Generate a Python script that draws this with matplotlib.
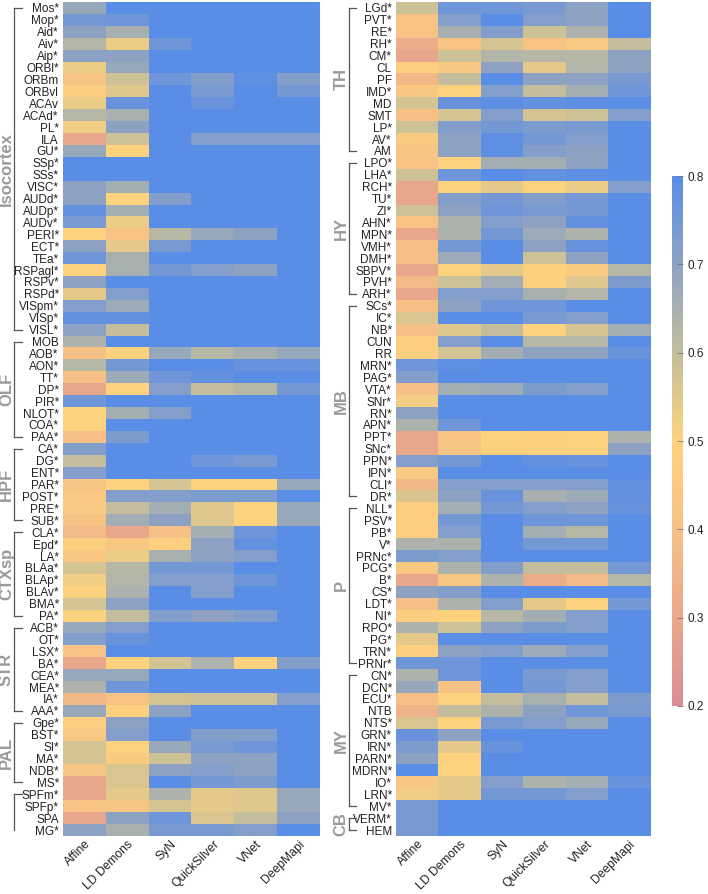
import numpy as np
import matplotlib
matplotlib.use('Agg')
import matplotlib.pyplot as plt
from matplotlib.colors import LinearSegmentedColormap

plt.rcParams['font.family'] = ['Liberation Sans', 'DejaVu Sans']

methods = ['Affine', 'LD Demons', 'SyN', 'QuickSilver', 'VNet', 'DeepMapi']

# left panel
left_regions = ['Mos*', 'Mop*', 'Aid*', 'Aiv*', 'Aip*', 'ORBl*', 'ORBm', 'ORBvl', 'ACAv', 'ACAd*',
                'PL*', 'ILA', 'GU*', 'SSp*', 'SSs*', 'VISC*', 'AUDd*', 'AUDp*', 'AUDv*', 'PERI*',
                'ECT*', 'TEa*', 'RSPagl*', 'RSPv*', 'RSPd*', 'VISpm*', 'VISp*', 'VISL*', 'MOB', 'AOB*',
                'AON*', 'TT*', 'DP*', 'PIR*', 'NLOT*', 'COA*', 'PAA*', 'CA*', 'DG*', 'ENT*',
                'PAR*', 'POST*', 'PRE*', 'SUB*', 'CLA*', 'Epd*', 'LA*', 'BLAa*', 'BLAp*', 'BLAv*',
                'BMA*', 'PA*', 'ACB*', 'OT*', 'LSX*', 'BA*', 'CEA*', 'MEA*', 'IA*', 'AAA*',
                'Gpe*', 'BST*', 'SI*', 'MA*', 'NDB*', 'MS*', 'SPFm*', 'SPFp*', 'SPA', 'MG*']

left_affine = [.68, .75, .70, .63, .70, .53, .42, .47, .53, .62,
               .52, .30, .68, .80, .80, .70, .70, .78, .74, .50,
               .70, .76, .50, .70, .54, .72, .78, .70, .64, .40,
               .62, .40, .30, .76, .50, .50, .40, .72, .60, .72,
               .43, .45, .45, .42, .38, .48, .44, .57, .52, .50,
               .57, .50, .68, .72, .42, .30, .68, .64, .37, .68,
               .48, .45, .57, .57, .43, .30, .30, .42, .30, .70]
left_lddemons = [.80, .76, .65, .53, .70, .68, .58, .55, .77, .65,
                 .70, .58, .50, .80, .80, .66, .50, .66, .53, .42,
                 .54, .65, .65, .80, .72, .67, .78, .60, .80, .50,
                 .75, .67, .50, .80, .66, .80, .73, .80, .80, .80,
                 .50, .72, .60, .66, .30, .44, .53, .62, .63, .64,
                 .70, .60, .72, .77, .80, .50, .68, .76, .42, .49,
                 .70, .72, .50, .46, .56, .56, .54, .43, .70, .65]
left_syn = [.80, .80, .80, .76, .80, .80, .76, .80, .80, .80,
            .80, .80, .80, .80, .80, .80, .72, .80, .80, .62,
            .74, .80, .75, .80, .80, .80, .80, .80, .80, .68,
            .80, .76, .72, .80, .72, .80, .80, .80, .80, .80,
            .57, .72, .66, .70, .40, .49, .65, .75, .72, .80,
            .80, .72, .80, .80, .80, .57, .80, .80, .57, .70,
            .80, .80, .68, .58, .70, .80, .64, .57, .76, .74]
left_quicksilver = [.80, .80, .80, .80, .80, .80, .72, .74, .77, .80,
                    .80, .72, .80, .80, .80, .80, .80, .80, .80, .68,
                    .80, .80, .72, .80, .80, .80, .80, .80, .80, .62,
                    .80, .78, .60, .80, .80, .80, .80, .80, .76, .80,
                    .50, .73, .55, .55, .66, .70, .70, .75, .72, .72,
                    .80, .70, .80, .80, .80, .64, .80, .80, .58, .80,
                    .80, .72, .74, .70, .72, .75, .54, .54, .56, .74]
left_vnet = [.80, .80, .80, .80, .80, .80, .79, .80, .80, .80,
             .80, .72, .80, .80, .80, .80, .80, .80, .80, .70,
             .80, .80, .70, .80, .80, .80, .80, .80, .80, .65,
             .77, .80, .62, .80, .80, .80, .80, .80, .74, .80,
             .50, .73, .50, .50, .76, .78, .72, .80, .76, .80,
             .80, .72, .80, .80, .80, .50, .80, .80, .58, .80,
             .80, .72, .76, .70, .70, .73, .55, .55, .60, .72]
left_deepmapi = [.80, .80, .80, .80, .80, .80, .72, .75, .80, .80,
                 .80, .72, .80, .80, .80, .80, .80, .80, .80, .80,
                 .80, .80, .80, .80, .80, .80, .80, .80, .80, .68,
                 .77, .80, .75, .80, .80, .80, .80, .80, .80, .80,
                 .68, .80, .68, .68, .80, .80, .80, .80, .80, .80,
                 .80, .80, .80, .80, .80, .72, .80, .80, .72, .80,
                 .80, .80, .80, .80, .80, .80, .68, .68, .70, .80]

# right panel
right_regions = ['LGd*', 'PVT*', 'RE*', 'RH*', 'CM*', 'CL', 'PF', 'IMD*', 'MD', 'SMT',
                 'LP*', 'AV*', 'AM', 'LPO*', 'LHA*', 'RCH*', 'TU*', 'ZI*', 'AHN*', 'MPN*',
                 'VMH*', 'DMH*', 'SBPV*', 'PVH*', 'ARH*', 'SCs*', 'IC*', 'NB*', 'CUN', 'RR',
                 'MRN*', 'PAG*', 'VTA*', 'SNr*', 'RN*', 'APN*', 'PPT*', 'SNc*', 'PPN*', 'IPN*',
                 'CLI*', 'DR*', 'NLL*', 'PSV*', 'PB*', 'V*', 'PRNc*', 'PCG*', 'B*', 'CS*',
                 'LDT*', 'NI*', 'RPO*', 'PG*', 'TRN*', 'PRNr*', 'CN*', 'DCN*', 'ECU*', 'NTB',
                 'NTS*', 'GRN*', 'IRN*', 'PARN*', 'MDRN*', 'IO*', 'LRN*', 'MV*', 'VERM*', 'HEM']

right_affine = [.58, .42, .42, .32, .30, .48, .37, .44, .57, .40,
                .58, .46, .43, .42, .58, .30, .30, .58, .42, .30,
                .40, .40, .30, .38, .30, .40, .56, .40, .48, .48,
                .76, .72, .40, .52, .70, .64, .30, .30, .72, .45,
                .37, .56, .48, .48, .48, .64, .73, .44, .30, .70,
                .40, .48, .64, .54, .48, .76, .64, .68, .40, .35,
                .56, .77, .73, .70, .80, .44, .52, .74, .74, .74]
right_lddemons = [.76, .72, .65, .42, .58, .44, .60, .50, .77, .57,
                  .72, .70, .70, .50, .76, .50, .72, .70, .64, .64,
                  .75, .67, .50, .58, .72, .70, .80, .55, .72, .57,
                  .79, .80, .66, .80, .80, .76, .42, .43, .75, .80,
                  .72, .70, .66, .75, .72, .64, .72, .64, .44, .72,
                  .64, .50, .58, .80, .70, .76, .76, .42, .50, .60,
                  .50, .70, .54, .50, .50, .54, .54, .80, .80, .80]
right_syn = [.76, .80, .72, .57, .63, .70, .80, .72, .79, .72,
             .75, .79, .79, .66, .80, .54, .75, .76, .72, .75,
             .80, .80, .54, .66, .72, .76, .80, .60, .80, .66,
             .80, .80, .67, .80, .80, .80, .50, .49, .80, .80,
             .72, .77, .75, .80, .80, .80, .80, .72, .64, .80,
             .72, .62, .70, .80, .72, .80, .80, .80, .60, .64,
             .74, .80, .77, .80, .80, .72, .75, .80, .80, .80]
right_quicksilver = [.74, .72, .58, .42, .62, .54, .70, .60, .78, .57,
                     .73, .75, .72, .66, .78, .50, .72, .74, .70, .67,
                     .70, .58, .49, .49, .65, .76, .74, .50, .62, .70,
                     .80, .80, .73, .80, .80, .80, .49, .49, .78, .80,
                     .72, .65, .72, .76, .66, .75, .80, .60, .32, .80,
                     .54, .66, .73, .80, .67, .80, .74, .75, .65, .70,
                     .72, .80, .80, .80, .80, .64, .75, .80, .80, .80]
right_vnet = [.70, .70, .64, .45, .62, .63, .70, .66, .79, .58,
              .74, .72, .70, .70, .79, .53, .75, .75, .78, .64,
              .77, .70, .46, .55, .63, .80, .72, .57, .62, .70,
              .80, .80, .72, .80, .80, .80, .50, .50, .77, .80,
              .72, .67, .70, .76, .62, .75, .80, .60, .38, .80,
              .50, .72, .72, .80, .72, .80, .72, .72, .60, .76,
              .68, .80, .80, .80, .80, .66, .72, .80, .80, .80]
right_deepmapi = [.80, .80, .80, .60, .70, .70, .74, .76, .80, .72,
                  .80, .80, .80, .80, .80, .72, .80, .80, .80, .80,
                  .80, .80, .62, .73, .80, .80, .80, .66, .80, .77,
                  .80, .80, .80, .80, .80, .80, .64, .70, .80, .80,
                  .78, .78, .77, .80, .80, .80, .80, .75, .62, .80,
                  .75, .80, .80, .80, .80, .80, .80, .80, .73, .74,
                  .80, .80, .80, .80, .80, .77, .80, .80, .80, .80]

# groups: (name, first row, last row)
left_groups = [('Isocortex', 0, 27), ('OLF', 28, 36), ('HPF', 37, 43), ('CTXsp', 44, 51),
               ('STR', 52, 59), ('PAL', 60, 65), ('', 66, 69)]
right_groups = [('TH', 0, 12), ('HY', 13, 24), ('MB', 25, 41), ('P', 42, 55),
                ('MY', 56, 67), ('CB', 68, 69)]

cmap = LinearSegmentedColormap.from_list('dice', [
    (0.0, '#d78e96'), (1/6, '#e9a88b'), (2/6, '#f5c086'), (3/6, '#fdd37e'),
    (4/6, '#c3bd9d'), (5/6, '#8ea3c3'), (1.0, '#5a8ee6')])

left_data = np.array([left_affine, left_lddemons, left_syn, left_quicksilver, left_vnet, left_deepmapi]).T
right_data = np.array([right_affine, right_lddemons, right_syn, right_quicksilver, right_vnet, right_deepmapi]).T

fig = plt.figure(figsize=(7.08, 8.94), dpi=100)
W, H = 708, 894
ax1 = fig.add_axes([63/W, 1-836/H, 257/W, 834/H])
ax2 = fig.add_axes([396/W, 1-836/H, 254/W, 834/H])
cax = fig.add_axes([672/W, 1-706/H, 11/W, 530/H])


def draw(ax, data, regions, groups, lx, bx, tx):
    im = ax.imshow(data, cmap=cmap, vmin=0.2, vmax=0.8, aspect='auto', interpolation='nearest')
    ax.set_yticks(range(len(regions)))
    ax.set_yticklabels(regions, fontsize=8.5, color='#222222')
    ax.set_xticks(range(len(methods)))
    ax.set_xticklabels(methods, rotation=45, ha='right', rotation_mode='anchor', fontsize=8.7, color='#222222')
    ax.tick_params(axis='y', length=0, pad=3)
    ax.tick_params(axis='x', length=0, pad=1.5)
    for s in ax.spines.values():
        s.set_visible(False)
    # brackets in figure pixel coords
    n = len(regions)
    for name, a, b in groups:
        ya = 1 - (2 + (a + 0.5) * 834 / n) / H
        yb = 1 - (2 + (b + 0.5) * 834 / n) / H
        fig.add_artist(plt.Line2D([bx/W, bx/W], [ya, yb], color='#555555', lw=0.9))
        fig.add_artist(plt.Line2D([bx/W, tx/W], [ya, ya], color='#555555', lw=0.9))
        if name:
            fig.add_artist(plt.Line2D([bx/W, tx/W], [yb, yb], color='#555555', lw=0.9))
            fig.text(lx/W, (ya + yb) / 2, name, rotation=90, ha='center', va='center',
                     fontsize=12, fontweight='bold', color='#9a9a9a')
    return im


im = draw(ax1, left_data, left_regions, left_groups, 6.5, 13.5, 22)
draw(ax2, right_data, right_regions, right_groups, 341, 348.5, 356)

cb = fig.colorbar(im, cax=cax, ticks=[0.2, 0.3, 0.4, 0.5, 0.6, 0.7, 0.8])
cb.outline.set_visible(False)
cb.ax.tick_params(labelsize=8.5, length=4, width=0.6, color='#777777', direction='in', labelcolor='#222222')

fig.savefig('out.png', dpi=100)
